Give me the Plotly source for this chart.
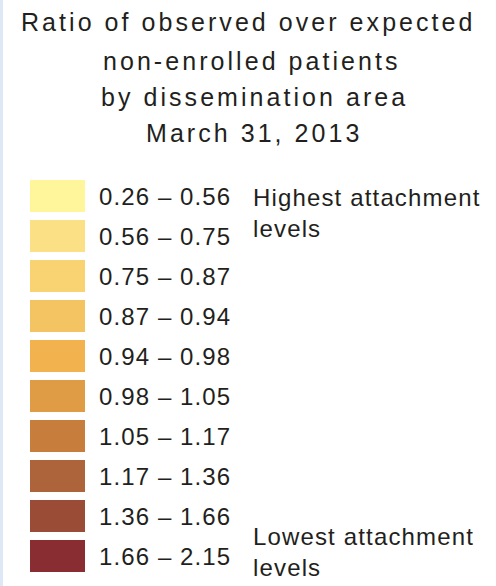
import plotly.graph_objects as go

title_lines = ["Ratio of observed over expected", "non-enrolled patients",
               "by dissemination area", "March 31, 2013"]
class_labels = ["0.26 – 0.56", "0.56 – 0.75", "0.75 – 0.87", "0.87 – 0.94", "0.94 – 0.98",
                "0.98 – 1.05", "1.05 – 1.17", "1.17 – 1.36", "1.36 – 1.66", "1.66 – 2.15"]
class_colors = ["#FFF59A", "#FBE086", "#F9D272", "#F5C462", "#F2B34F",
                "#E09C45", "#C77D3C", "#AD643A", "#9A4C36", "#892D33"]
top_note = "Highest attachment<br>levels"
bottom_note = "Lowest attachment<br>levels"

W, H = 496, 586
FONT = "Liberation Sans, Arial, sans-serif"
TXT = "#231F20"

idx = list(range(len(class_labels)))

fig = go.Figure()
fig.add_trace(go.Bar(
    y=idx, x=[1] * len(idx), base=0, orientation="h", width=0.81,
    marker=dict(color=class_colors, line=dict(width=0)),
    hoverinfo="skip", showlegend=False,
))

def sp(t, s):
    return f'<span style="letter-spacing:{s}px">{t}</span>'

ann = []
for i, lab in enumerate(class_labels):
    ann.append(dict(x=1.215, y=i, xref="x", yref="y", text=sp(lab, 1.1), showarrow=False,
                    xanchor="left", yanchor="middle",
                    font=dict(family=FONT, size=24, color=TXT)))

title_y = [22, 61.5, 97, 132.5]
title_x = [248.5, 252, 254.5, 254]
for t, px, py in zip(title_lines, title_x, title_y):
    ann.append(dict(x=px / W, y=1 - py / H, xref="paper", yref="paper", text=sp(t, 3.05),
                    showarrow=False, xanchor="center", yanchor="middle",
                    font=dict(family=FONT, size=25, color=TXT)))

ann.append(dict(x=251 / W, y=1 - 213 / H, xref="paper", yref="paper", text=sp(top_note, 1.15),
                showarrow=False, xanchor="left", yanchor="middle", align="left",
                font=dict(family=FONT, size=24, color=TXT)))
ann.append(dict(x=251 / W, y=1 - 552 / H, xref="paper", yref="paper", text=sp(bottom_note, 1.15),
                showarrow=False, xanchor="left", yanchor="middle", align="left",
                font=dict(family=FONT, size=24, color=TXT)))

fig.update_layout(
    width=W, height=H, margin=dict(l=0, r=0, t=0, b=0),
    paper_bgcolor="white", plot_bgcolor="white",
    xaxis=dict(range=[-30 / 55, (W - 30) / 55], visible=False, fixedrange=True),
    yaxis=dict(range=[(H - 196) / 40, -196 / 40], visible=False, fixedrange=True),
    annotations=ann, bargap=0,
    shapes=[dict(type="rect", xref="paper", yref="paper", x0=0, x1=3 / W, y0=0, y1=1,
                 fillcolor="#DCE8F5", line=dict(width=0), layer="above")],
)

fig.write_html("out.html", config={"displayModeBar": False},
               post_script="document.body.style.margin='0';document.body.style.overflow='hidden';")
